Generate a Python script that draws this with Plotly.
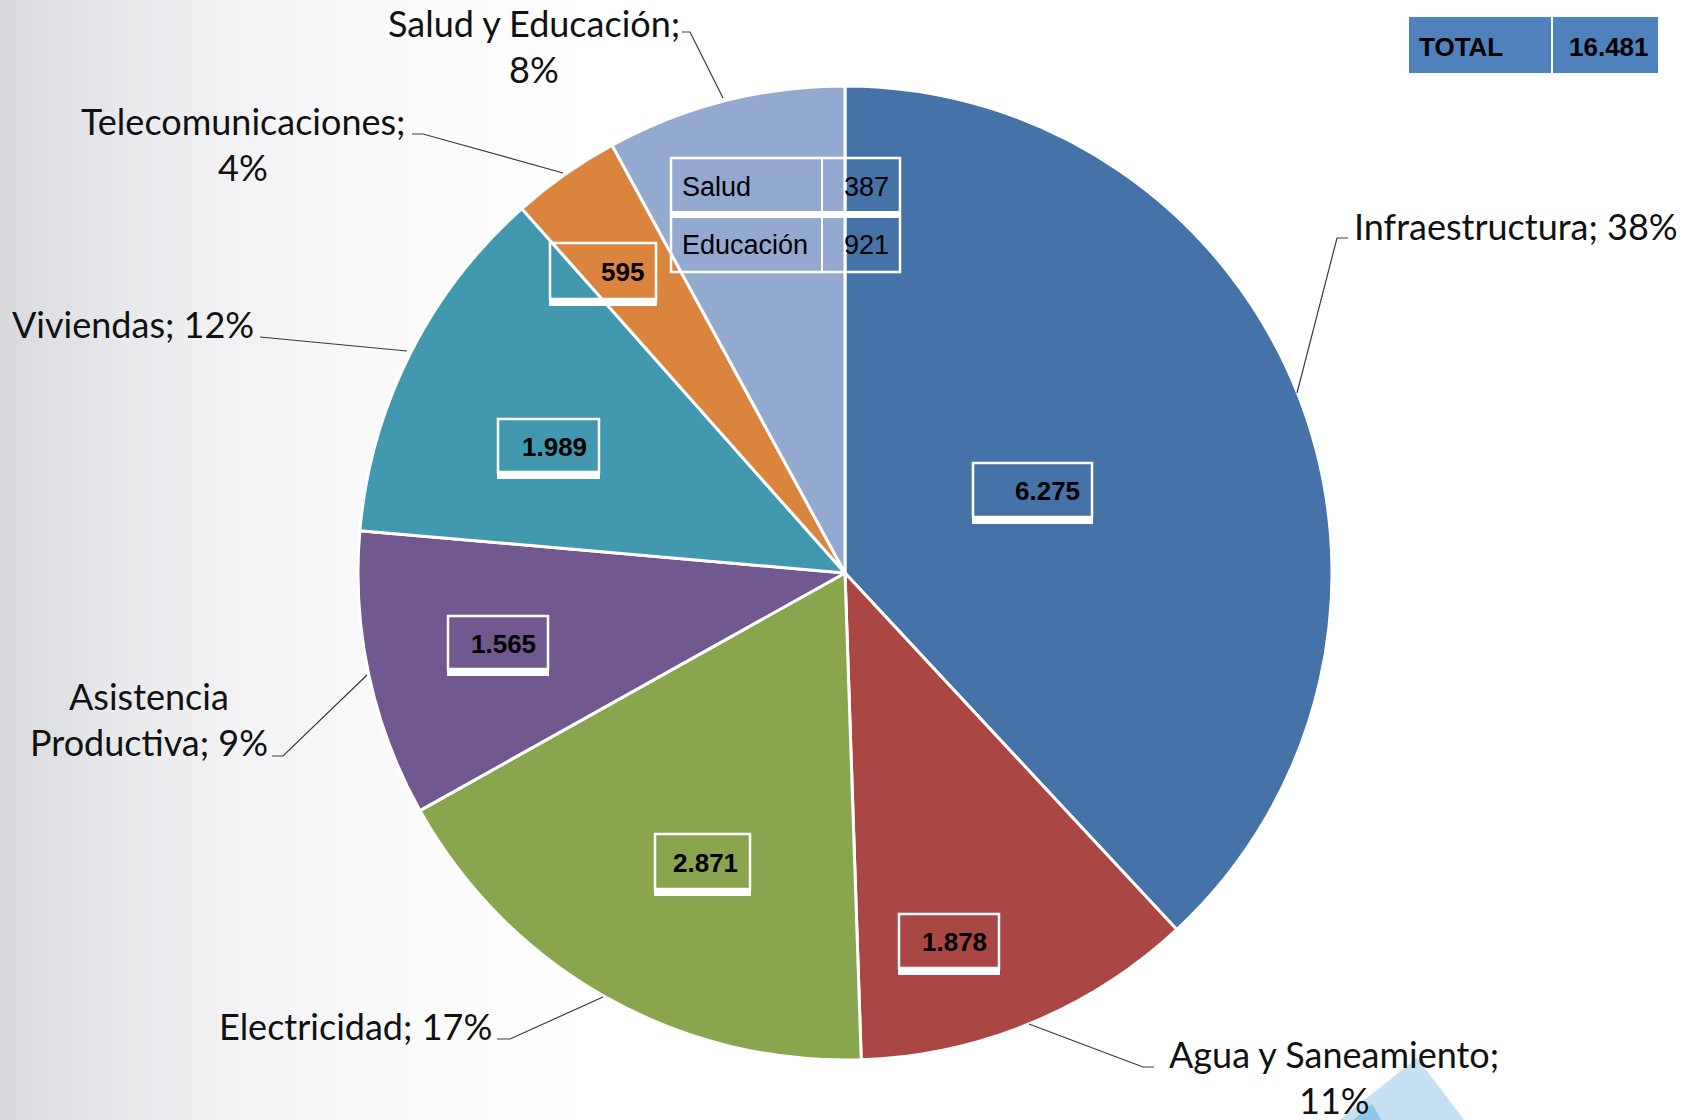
import plotly.graph_objects as go

# ---------------- data ----------------
categories = ["Infraestructura", "Agua y Saneamiento", "Electricidad",
              "Asistencia Productiva", "Viviendas", "Telecomunicaciones",
              "Salud y Educación"]
values = [6275, 1878, 2871, 1565, 1989, 595, 1308]
sub_categories = ["Salud", "Educación"]
sub_values = [387, 921]
total_label = "TOTAL"

colors = ["#4572A7", "#AA4643", "#89A54E", "#71588F", "#4198AF", "#DB843D", "#93A9CF"]

W, H = 1694, 1120
CX, CY, R = 845, 573, 487


def fmt(v):
    return f"{v:,}".replace(",", ".")


def px(x):
    return x / W


def py(y):
    return 1 - y / H


fig = go.Figure()
fig.add_trace(go.Pie(
    labels=categories, values=values, sort=False, direction="clockwise", rotation=0,
    marker=dict(colors=colors, line=dict(color="white", width=3)),
    textinfo="none", hoverinfo="label+value+percent", showlegend=False,
    domain=dict(x=[px(CX - R), px(CX + R)], y=[py(CY + R), py(CY - R)]),
))

shapes = []
annotations = []

# ---------------- background gradient (left side) ----------------
stops = [(0, (216, 217, 221)), (120, (232, 233, 236)), (260, (244, 244, 246)),
         (420, (251, 251, 252)), (600, (255, 255, 255))]


def grad(x):
    for (x0, c0), (x1, c1) in zip(stops[:-1], stops[1:]):
        if x0 <= x <= x1:
            t = (x - x0) / (x1 - x0)
            return tuple(round(a + (b - a) * t) for a, b in zip(c0, c1))
    return (255, 255, 255)


step = 8
for x in range(0, 600, step):
    c = grad(x + step / 2)
    shapes.append(dict(type="rect", xref="paper", yref="paper", x0=px(x), x1=px(x + step + 0.5),
                       y0=0, y1=1, fillcolor=f"rgb{c}", line=dict(width=0), layer="below"))

# decorative shapes bottom right
shapes.append(dict(type="path", xref="paper", yref="paper", layer="below",
                   path=f"M {px(1417)} {py(1058)} L {px(1338)} {py(1121)} L {px(1465)} {py(1121)} Z",
                   fillcolor="#c4e0f1", line=dict(width=0)))
shapes.append(dict(type="path", xref="paper", yref="paper", layer="below",
                   path=f"M {px(1372)} {py(1104)} L {px(1352)} {py(1121)} L {px(1382)} {py(1121)} Z",
                   fillcolor="#8fc6e6", line=dict(width=0)))

# ---------------- outer labels ----------------
pcts = [round(v / sum(values) * 100) for v in values]
break_mode = {"Salud y Educación": "semi", "Telecomunicaciones": "semi",
              "Agua y Saneamiento": "semi", "Asistencia Productiva": "space"}

# (x anchor px, anchor, first line y px)
label_pos = {
    "Infraestructura": (1352, "left", 228),
    "Agua y Saneamiento": (1334, "center", 1056),
    "Electricidad": (494, "right", 1028),
    "Asistencia Productiva": (149, "center", 698),
    "Viviendas": (256, "right", 326),
    "Telecomunicaciones": (243, "center", 123),
    "Salud y Educación": (534, "center", 25),
}
LINE_GAP = 46
label_font = dict(family="Lato, 'Open Sans', sans-serif", size=36, color="#111111")

for cat, p in zip(categories, pcts):
    mode = break_mode.get(cat)
    if mode == "semi":
        lines = [f"{cat};", f"{p}%"]
    elif mode == "space":
        a, b = cat.split(" ", 1)
        lines = [a, f"{b}; {p}%"]
    else:
        lines = [f"{cat}; {p}%"]
    x, anch, y0 = label_pos[cat]
    for i, ln in enumerate(lines):
        annotations.append(dict(text=ln, x=px(x), y=py(y0 + i * LINE_GAP - 2), xref="paper", yref="paper",
                                xanchor=anch, yanchor="middle", showarrow=False, font=label_font))

# leader lines
leaders = [
    [(1297, 393), (1337, 238), (1348, 238)],
    [(1029, 1024), (1143, 1067), (1154, 1067)],
    [(603, 997), (510, 1039), (497, 1039)],
    [(367, 675), (283, 756), (272, 756)],
    [(407, 351), (260, 337)],
    [(563, 173), (423, 134), (412, 134)],
    [(723, 98), (690, 32), (682, 32)],
]
for pts in leaders:
    path = "M " + " L ".join(f"{px(x)} {py(y)}" for x, y in pts)
    shapes.append(dict(type="path", xref="paper", yref="paper", path=path,
                       line=dict(color="#3a3a3a", width=1.2)))

# ---------------- value boxes ----------------
value_boxes = {
    "Infraestructura": (973, 463, 1092, 524),
    "Agua y Saneamiento": (899, 914, 999, 975),
    "Electricidad": (655, 834, 750, 896),
    "Asistencia Productiva": (448, 616, 548, 676),
    "Viviendas": (498, 419, 599, 479),
    "Telecomunicaciones": (550, 243, 656, 306),
}
val_font = dict(family="Liberation Sans, Arial, sans-serif", size=26, color="black")
for cat, v in zip(categories, values):
    if cat not in value_boxes:
        continue
    l, t, r, b = value_boxes[cat]
    band = 7
    shapes.append(dict(type="rect", xref="paper", yref="paper", x0=px(l), x1=px(r),
                       y0=py(b - band), y1=py(t), line=dict(color="white", width=2.5),
                       fillcolor="rgba(0,0,0,0)"))
    shapes.append(dict(type="rect", xref="paper", yref="paper", x0=px(l - 1), x1=px(r + 1),
                       y0=py(b), y1=py(b - band), line=dict(width=0), fillcolor="white"))
    annotations.append(dict(text=f"<b>{fmt(v)}</b>", x=px(r - 10), y=py((t + b - band) / 2 + 1),
                            xref="paper", yref="paper", xanchor="right", yanchor="middle",
                            showarrow=False, font=val_font))

# ---------------- Salud / Educación table ----------------
TL, TR, TT, TB, TC = 671, 900, 158, 272, 822
shapes.append(dict(type="rect", xref="paper", yref="paper", x0=px(TL), x1=px(TR), y0=py(TB), y1=py(TT),
                   line=dict(color="white", width=2.5), fillcolor="rgba(0,0,0,0)"))
shapes.append(dict(type="rect", xref="paper", yref="paper", x0=px(TL), x1=px(TR), y0=py(218), y1=py(211),
                   line=dict(width=0), fillcolor="white"))
shapes.append(dict(type="line", xref="paper", yref="paper", x0=px(TC), x1=px(TC), y0=py(TB), y1=py(TT),
                   line=dict(color="white", width=2)))
tab_font = dict(family="Liberation Sans, Arial, sans-serif", size=27, color="black")
row_y = [187, 245]
for name, v, yy in zip(sub_categories, sub_values, row_y):
    annotations.append(dict(text=name, x=px(680), y=py(yy), xref="paper", yref="paper",
                            xanchor="left", yanchor="middle", showarrow=False, font=tab_font))
    annotations.append(dict(text=fmt(v), x=px(891), y=py(yy), xref="paper", yref="paper",
                            xanchor="right", yanchor="middle", showarrow=False, font=tab_font))

# ---------------- TOTAL box ----------------
shapes.append(dict(type="rect", xref="paper", yref="paper", x0=px(1409), x1=px(1551), y0=py(73), y1=py(17),
                   line=dict(width=0), fillcolor="#4F81BD"))
shapes.append(dict(type="rect", xref="paper", yref="paper", x0=px(1553), x1=px(1658), y0=py(73), y1=py(17),
                   line=dict(width=0), fillcolor="#4F81BD"))
annotations.append(dict(text=f"<b>{total_label}</b>", x=px(1417), y=py(47), xref="paper", yref="paper",
                        xanchor="left", yanchor="middle", showarrow=False, font=val_font))
annotations.append(dict(text=f"<b>{fmt(sum(values))}</b>", x=px(1651), y=py(47), xref="paper", yref="paper",
                        xanchor="right", yanchor="middle", showarrow=False, font=val_font))

fig.update_layout(
    width=W, height=H, margin=dict(l=0, r=0, t=0, b=0),
    paper_bgcolor="white", plot_bgcolor="white",
    shapes=shapes, annotations=annotations,
)

fig.write_html("out.html", config={"displayModeBar": False},
               post_script="document.body.style.margin='0';document.body.style.overflow='hidden';")
